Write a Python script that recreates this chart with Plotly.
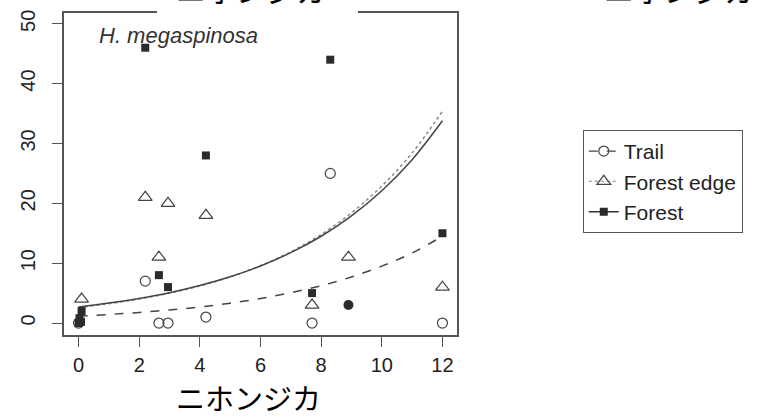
import plotly.graph_objects as go

# ---- data ----
trail_x = [0.0, 2.2, 2.65, 2.95, 4.2, 7.7, 8.3, 12.0]
trail_y = [0.0, 7.0, 0.0, 0.0, 1.0, 0.0, 25.0, 0.0]

edge_x = [0.1, 2.2, 2.65, 2.95, 4.2, 7.7, 8.9, 12.0]
edge_y = [4.0, 21.0, 11.0, 20.0, 18.0, 3.0, 11.0, 6.0]

forest_x = [0.0, 0.08, 0.03, 0.1, 2.2, 2.65, 2.95, 4.2, 7.7, 8.3, 12.0]
forest_y = [0.0, 0.2, 0.8, 2.0, 46.0, 8.0, 6.0, 28.0, 5.0, 44.0, 15.0]

overlap_x = [8.9]
overlap_y = [3.0]

curve_x = [0, 1, 2, 3, 4, 5, 6, 7, 8, 9, 10, 11, 12]
trail_fit = [1.16, 1.43, 1.77, 2.18, 2.69, 3.32, 4.1, 5.06, 6.24, 7.7, 9.5, 11.7, 14.5]
edge_fit = [2.6, 3.23, 4.02, 4.99, 6.2, 7.71, 9.58, 11.9, 14.8, 18.4, 22.9, 28.4, 35.4]
forest_fit = [2.7, 3.33, 4.11, 5.07, 6.26, 7.72, 9.53, 11.76, 14.5, 17.9, 22.1, 27.3, 33.8]

x_ticks = [0, 2, 4, 6, 8, 10, 12]
y_ticks = [0, 10, 20, 30, 40, 50]

series_names = ["Trail", "Forest edge", "Forest"]
x_title = "ニホンジカ"
species = "H. megaspinosa"

FONT = "Liberation Sans, Arial, sans-serif"
JP = "Noto Sans CJK JP, sans-serif"
INK = "#333333"
AX = "#555555"

fig = go.Figure()

# fitted curves
fig.add_trace(go.Scatter(x=curve_x, y=trail_fit, mode="lines", line_shape="spline",
                         line=dict(color="#444444", width=1.5, dash="dash"),
                         showlegend=False, hoverinfo="skip"))
fig.add_trace(go.Scatter(x=curve_x, y=edge_fit, mode="lines", line_shape="spline",
                         line=dict(color="#888888", width=1.5, dash="dot"),
                         showlegend=False, hoverinfo="skip"))
fig.add_trace(go.Scatter(x=curve_x, y=forest_fit, mode="lines", line_shape="spline",
                         line=dict(color="#444444", width=1.5),
                         showlegend=False, hoverinfo="skip"))

m_trail = dict(symbol="circle-open", size=10, color="#444444", line=dict(width=1.2))
m_edge = dict(symbol="triangle-up-open", size=12, color="#444444", line=dict(width=1.2))
m_forest = dict(symbol="square", size=8, color="#2b2b2b")

# observed points
fig.add_trace(go.Scatter(x=trail_x, y=trail_y, mode="markers", marker=m_trail,
                         showlegend=False))
fig.add_trace(go.Scatter(x=edge_x, y=edge_y, mode="markers", marker=m_edge,
                         showlegend=False))
fig.add_trace(go.Scatter(x=forest_x, y=forest_y, mode="markers", marker=m_forest,
                         showlegend=False))
fig.add_trace(go.Scatter(x=overlap_x, y=overlap_y, mode="markers", showlegend=False,
                         marker=dict(symbol="circle", size=10, color="#2b2b2b")))

# legend entries (line + symbol)
fig.add_trace(go.Scatter(x=[None], y=[None], mode="markers+lines", name=series_names[0],
                         marker=m_trail, line=dict(color="#444444", width=1.2, dash="dash")))
fig.add_trace(go.Scatter(x=[None], y=[None], mode="markers+lines", name=series_names[1],
                         marker=m_edge, line=dict(color="#999999", width=1.2, dash="dot")))
fig.add_trace(go.Scatter(x=[None], y=[None], mode="markers+lines", name=series_names[2],
                         marker=m_forest, line=dict(color="#333333", width=1.5)))

fig.update_layout(
    width=769, height=419,
    margin=dict(l=64, r=312, t=10, b=84),
    paper_bgcolor="white", plot_bgcolor="white",
    font=dict(family=FONT, size=20, color="#222222"),
    showlegend=True,
    legend=dict(x=1.32, y=0.637, xanchor="left", yanchor="top",
                bordercolor=AX, borderwidth=1, bgcolor="white",
                font=dict(family=FONT, size=21, color="#222222"),
                itemwidth=30, tracegroupgap=0),
    xaxis=dict(range=[-0.48, 12.48], tickvals=x_ticks, ticktext=[str(v) for v in x_ticks],
               showgrid=False, zeroline=False, showline=True, mirror=True,
               linecolor=AX, linewidth=1.5, ticks="outside", ticklen=10,
               tickcolor=AX, tickwidth=1.3, ticklabelstandoff=1,
               tickfont=dict(size=20, color="#222222")),
    yaxis=dict(range=[-2, 51.8], tickvals=y_ticks, ticktext=[str(v) for v in y_ticks],
               showgrid=False, zeroline=False, showline=True, mirror=True,
               linecolor=AX, linewidth=1.5, ticks="outside", ticklen=10,
               tickcolor=AX, tickwidth=1.3, tickangle=-90, ticklabelstandoff=9,
               tickfont=dict(size=20, color="#222222")),
    shapes=[dict(type="rect", xref="paper", yref="paper", x0=0.2366, x1=0.748,
                 y0=0.985, y1=1.06, fillcolor="white", line=dict(width=0), layer="above")],
    annotations=[
        dict(text="<i>" + species + "</i>", xref="paper", yref="paper", x=0.083, y=0.929,
             xanchor="left", yanchor="middle", showarrow=False,
             font=dict(family=FONT, size=22, color=INK)),
        dict(text=x_title, xref="paper", yref="paper", x=0.47, y=-0.192,
             xanchor="center", yanchor="middle", showarrow=False,
             font=dict(family=JP, size=29, color="black")),
        dict(text=x_title, xref="paper", yref="paper", x=0.4765, y=1.0,
             xanchor="center", yanchor="bottom", showarrow=False,
             font=dict(family=JP, size=30, color="black")),
        dict(text=x_title, xref="paper", yref="paper", x=1.566, y=1.0,
             xanchor="center", yanchor="bottom", showarrow=False,
             font=dict(family=JP, size=30, color="black")),
    ],
)

fig.write_html("out.html")
